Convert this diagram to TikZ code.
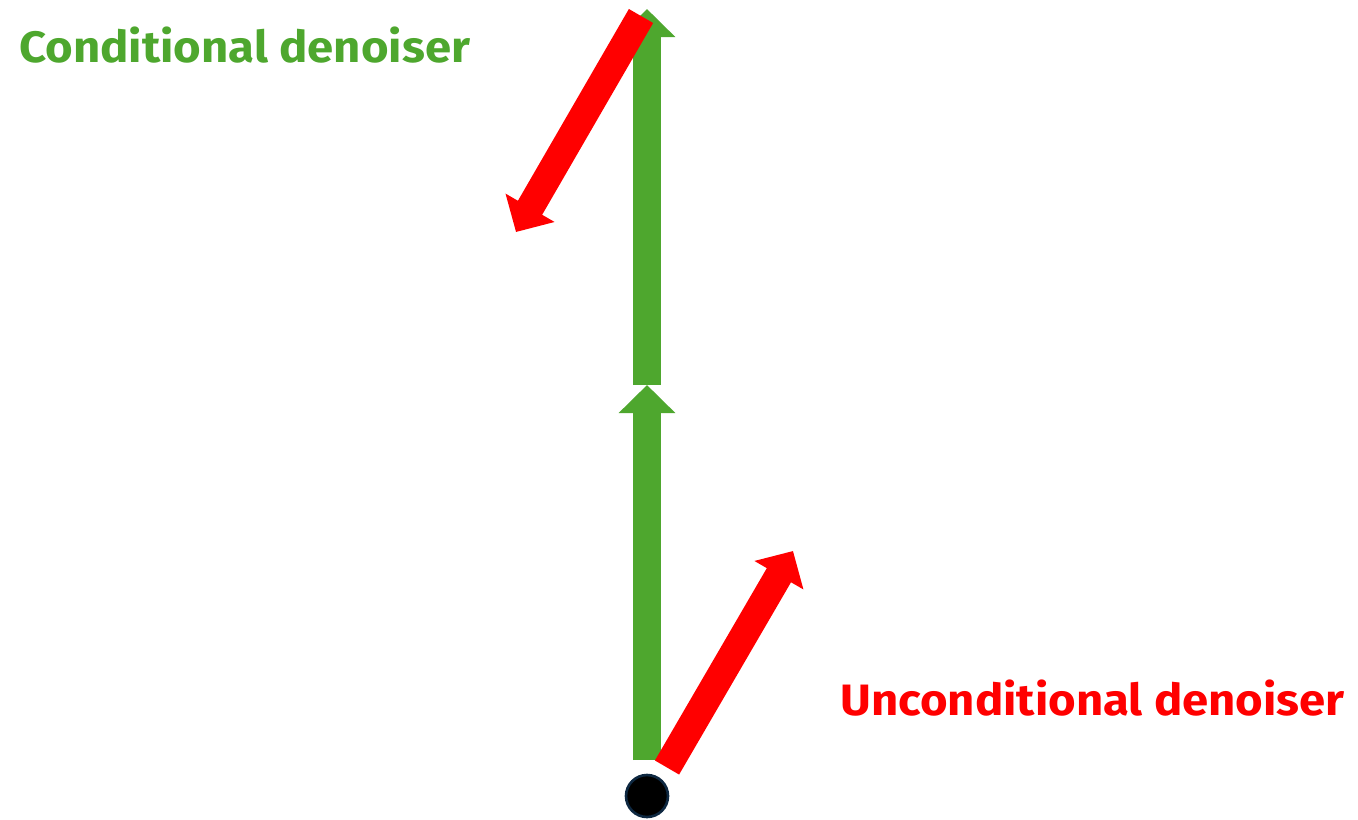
\documentclass[tikz,border=0pt]{standalone}
\usepackage{fontspec}
\setmainfont{Fira Sans}
\usetikzlibrary{arrows.meta}
\definecolor{cgreen}{HTML}{4EA72E}
\definecolor{cred}{HTML}{FF0000}
\definecolor{cdot}{HTML}{0E2841}
\newcommand{\widetext}[1]{\scalebox{1.077}[1]{#1}}
\tikzset{
  fatarrow/.style={line width=0.56cm, -{Triangle[width=1.1cm,length=0.56cm]}},
  lbl/.style={font=\bfseries\fontsize{25}{30}\selectfont, anchor=base west, inner sep=0pt},
}
\begin{document}
\begin{tikzpicture}[x=0.02cm,y=-0.02cm]
\useasboundingbox (0,0) rectangle (1358,819);
\coordinate (g0) at (647,760);
\coordinate (g1) at (647,385);
\coordinate (g2) at (647,9);
\coordinate (r1s) at (641,16);
\coordinate (r1e) at (516,232);
\coordinate (r2s) at (667,767.5);
\coordinate (r2e) at (793,551);
\draw[fatarrow, cgreen] (g0) -- (g1);
\draw[fatarrow, cgreen] (g1) -- (g2);
\draw[fatarrow, cred] (r1s) -- (r1e);
\draw[fatarrow, cred] (r2s) -- (r2e);
\node[circle, fill=black, draw=cdot, line width=1.5pt, minimum size=0.84cm, inner sep=0pt] (dot) at (647,796) {};
\node[lbl, text=cgreen] (cond) at (19,62) {\widetext{Conditional denoiser}};
\node[lbl, text=cred] (uncond) at (840,715) {\widetext{Unconditional denoiser}};
\end{tikzpicture}
\end{document}
